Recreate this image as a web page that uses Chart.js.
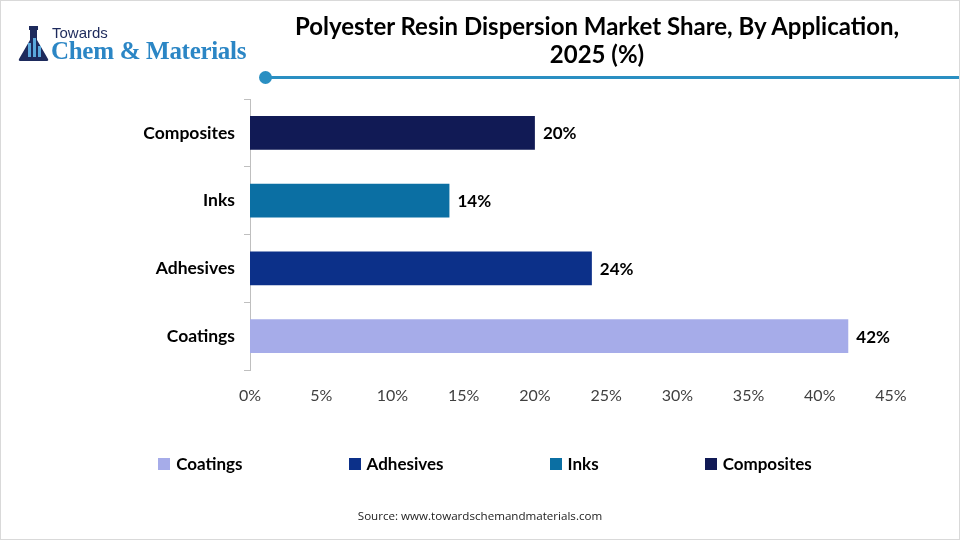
<!DOCTYPE html>
<html>
<head>
<meta charset="utf-8">
<script src="https://cdn.jsdelivr.net/npm/chart.js@4.4.1/dist/chart.umd.min.js"></script>
<style>
  html, body { margin: 0; padding: 0; background: #fff; }
  #wrap { position: relative; width: 960px; height: 540px; overflow: hidden; background: #fff; font-family: Lato, "Open Sans", sans-serif; }
  #frame { position: absolute; left: 0; top: 0; width: 958px; height: 538px; border: 1px solid #d9d9d9; pointer-events: none; }
  canvas { position: absolute; left: 0; top: 0; }
  #title { position: absolute; left: 240px; width: 714px; top: 12px; text-align: center; font-weight: 700; font-size: 24px; line-height: 28px; color: #000; letter-spacing: 0px; }
  #rule { position: absolute; left: 266px; top: 76px; width: 694px; height: 3px; background: #2a8fc2; }
  #dot { position: absolute; left: 259px; top: 71px; width: 13px; height: 13px; border-radius: 50%; background: #2a8fc2; }
  #logo1 { position: absolute; left: 52px; top: 24px; font-family: "Liberation Sans", Arial, sans-serif; font-size: 15px; color: #1d2a5c; }
  #logo2 { position: absolute; left: 51px; top: 37px; font-family: "Liberation Serif", serif; font-weight: 700; font-size: 25px; color: #2b86c5; white-space: nowrap; letter-spacing: -0.3px; }
  #icon { position: absolute; left: 17px; top: 26px; }
  #legend { position: absolute; top: 453px; left: 5px; width: 960px; display: flex; justify-content: center; font-weight: 700; font-size: 17px; color: #000; }
  .li { display: flex; align-items: center; margin: 0 53px; white-space: nowrap; }
  .sw { width: 12px; height: 12px; margin-right: 6px; }
  #source { position: absolute; top: 508px; left: 0; width: 960px; text-align: center; font-family: "Open Sans", sans-serif; font-size: 11.6px; color: #222; }
</style>
</head>
<body>
<div id="wrap">
  <canvas id="c" width="960" height="540"></canvas>
  <svg id="icon" width="34" height="36" viewBox="0 0 34 36">
    <rect x="12" y="0" width="9" height="4" fill="#1d2a5c"/>
    <path d="M13 4 L20 4 L20 14 L31 33 Q32 35 29 35 L4 35 Q1 35 2 33 L13 14 Z" fill="#1d2a5c"/>
    <rect x="11" y="17" width="3" height="14" fill="#5aa8dc"/>
    <rect x="16" y="12" width="3" height="19" fill="#5aa8dc"/>
    <rect x="21" y="20" width="3" height="11" fill="#5aa8dc"/>
  </svg>
  <div id="logo1">Towards</div>
  <div id="logo2">Chem &amp; Materials</div>
  <div id="title">Polyester Resin Dispersion Market Share, By Application,<br>2025 (%)</div>
  <div id="dot"></div>
  <div id="rule"></div>
  <div id="legend"></div>
  <div id="source">Source: www.towardschemandmaterials.com</div>
  <div id="frame"></div>
</div>
<script>
const categories = ['Coatings', 'Adhesives', 'Inks', 'Composites'];
const shares = [42, 24, 14, 20];
const barColors = ['#a6ace9', '#0c3089', '#0b6fa3', '#111a55'];
const xTickMax = 45;
const xTickStep = 5;

const legendEl = document.getElementById('legend');
categories.forEach((name, i) => {
  const item = document.createElement('div');
  item.className = 'li';
  const sw = document.createElement('div');
  sw.className = 'sw';
  sw.style.background = barColors[i];
  const t = document.createElement('span');
  t.textContent = name;
  item.appendChild(sw);
  item.appendChild(t);
  legendEl.appendChild(item);
});

const valueLabels = {
  id: 'valueLabels',
  afterDatasetsDraw(chart) {
    const ctx = chart.ctx;
    const meta = chart.getDatasetMeta(0);
    ctx.save();
    ctx.font = '700 17px Lato, "Open Sans", sans-serif';
    ctx.fillStyle = '#000';
    ctx.textAlign = 'left';
    ctx.textBaseline = 'middle';
    meta.data.forEach((bar, i) => {
      ctx.fillText(shares[i] + '%', bar.x + 8, bar.y + 1);
    });
    ctx.restore();
  }
};

new Chart(document.getElementById('c'), {
  type: 'bar',
  data: {
    labels: categories,
    datasets: [{
      data: shares,
      backgroundColor: barColors,
      borderWidth: 0,
      categoryPercentage: 1,
      barPercentage: 0.5
    }]
  },
  options: {
    indexAxis: 'y',
    responsive: false,
    animation: false,
    layout: { padding: { top: 99, right: 69, bottom: 130, left: 0 } },
    plugins: { legend: { display: false }, tooltip: { enabled: false } },
    scales: {
      x: {
        min: 0,
        max: xTickMax,
        ticks: {
          stepSize: xTickStep,
          callback: v => v + '%',
          color: '#404040',
          font: { family: 'Lato, "Open Sans", sans-serif', size: 16 },
          padding: 16
        },
        grid: { display: false, drawTicks: false },
        border: { display: false },
        afterFit: s => { s.height = 40; }
      },
      y: {
        reverse: true,
        ticks: {
          color: '#000',
          font: { family: 'Lato, "Open Sans", sans-serif', size: 17.5, weight: '700' },
          padding: 9
        },
        grid: { display: true, drawOnChartArea: false, drawTicks: true, tickLength: 6, color: '#bfbfbf', offset: true },
        border: { display: true, color: '#bfbfbf', width: 1 },
        afterFit: s => { s.width = 250; }
      }
    }
  },
  plugins: [valueLabels]
});
</script>
</body>
</html>
